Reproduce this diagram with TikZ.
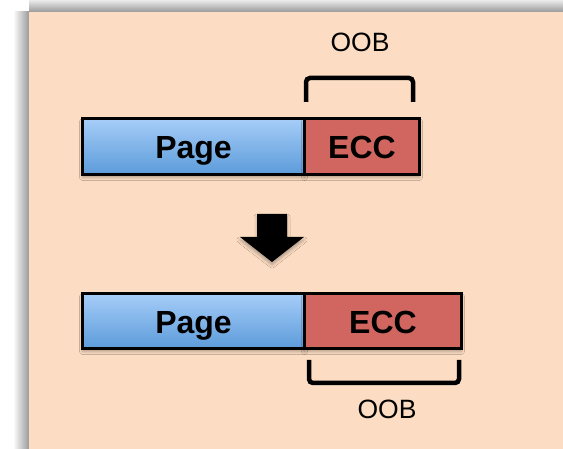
\documentclass[tikz,border=0pt]{standalone}
\usepackage{fontspec}
\setmainfont{Liberation Sans}
\usetikzlibrary{shadows.blur}
\definecolor{peach}{HTML}{FCDDC3}
\definecolor{blueTop}{HTML}{A6CDF8}
\definecolor{blueBot}{HTML}{5C9BDA}
\definecolor{eccred}{HTML}{D0665F}
\begin{document}
\begin{tikzpicture}[x=1pt,y=-1pt,
  cell/.style={draw=black,line width=3pt,anchor=north west,inner sep=0pt,
    text height=24.5pt,text depth=0pt,
    font=\fontsize{32}{34}\selectfont\bfseries,
    blur shadow={shadow xshift=0pt,shadow yshift=-3pt,shadow blur radius=3pt,shadow opacity=30}},
  pagecell/.style={cell,top color=blueTop,bottom color=blueBot},
  ecccell/.style={cell,fill=eccred},
  brack/.style={line width=4.5pt,rounded corners=4pt},
  lbl/.style={font=\fontsize{26.5}{28}\selectfont,inner sep=0pt}]
\useasboundingbox (0,0) rectangle (563,449);
% page shadow
\shade[left color=white,right color=black!40] (13,12) rectangle (29,449);
\shade[top color=white,bottom color=black!40] (29,-3) rectangle (563,12);
\fill[peach] (29,12) rectangle (563,449);
% top bar
\node[pagecell,minimum width=222pt,minimum height=56pt] (p1) at (81,117) {Page};
\node[ecccell,minimum width=115pt,minimum height=56pt] (e1) at (303,117) {ECC};
\draw[brack] (306,102) coordinate (b1a) |- (413,78) coordinate (b1top) -- (413,102) coordinate (b1b);
\node[lbl] (o1) at (360,42) {OOB};
% arrow
\fill[black,blur shadow={shadow xshift=0pt,shadow yshift=-3pt,shadow blur radius=3pt,shadow opacity=30}]
  (257,214) -- (287,214) -- (287,237) -- (304,237) -- (272,262) -- (240,237) -- (257,237) -- cycle;
% bottom bar
\node[pagecell,minimum width=222pt,minimum height=55pt] (p2) at (81,292) {Page};
\node[ecccell,minimum width=157pt,minimum height=55pt] (e2) at (303,292) {ECC};
\draw[brack] (309,360) coordinate (b2a) |- (459,383) coordinate (b2bot) -- (459,360) coordinate (b2b);
\node[lbl] (o2) at (387,409) {OOB};
\end{tikzpicture}
\end{document}
